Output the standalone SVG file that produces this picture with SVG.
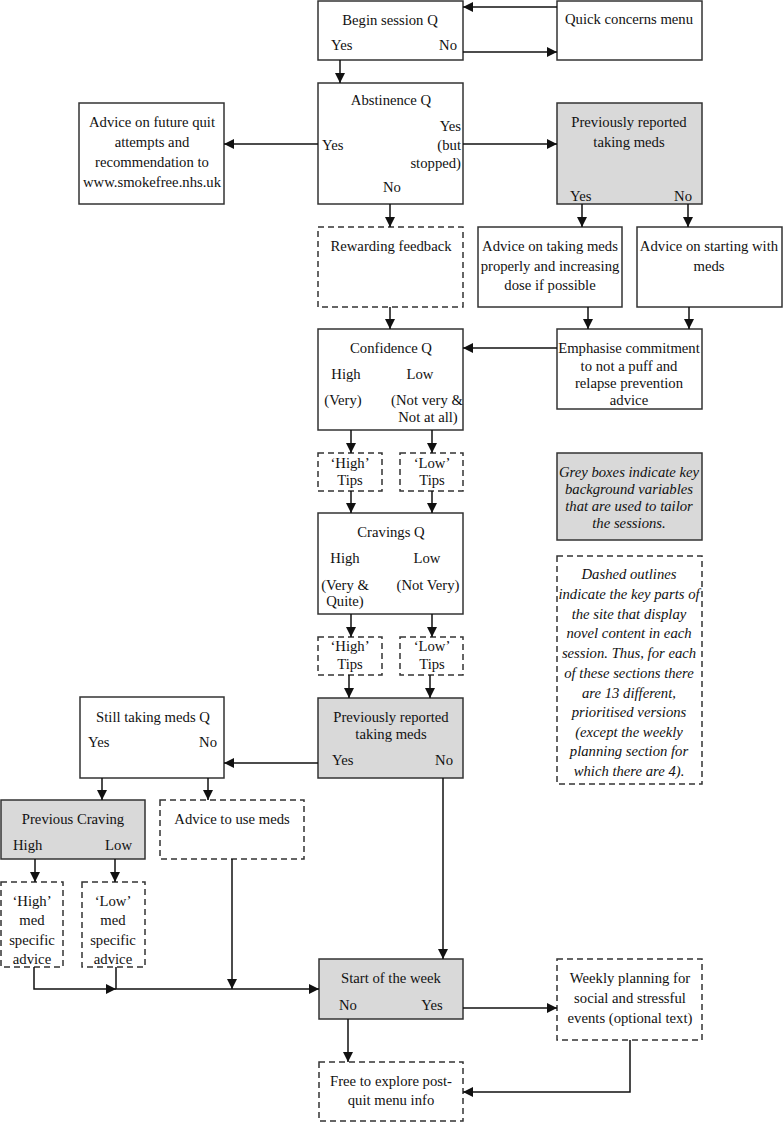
<svg xmlns="http://www.w3.org/2000/svg" width="784" height="1122" viewBox="0 0 784 1122">
<defs>
<marker id="arr" markerWidth="10" markerHeight="10" refX="10" refY="5" orient="auto" markerUnits="userSpaceOnUse">
<path d="M0,0 L10,5 L0,10 z" fill="#111"/>
</marker>
<style>
.box{fill:#fff;stroke:#333;stroke-width:1.5}
.grey{fill:#d9d9d9;stroke:#333;stroke-width:1.5}
.dash{fill:#fff;stroke:#333;stroke-width:1.5;stroke-dasharray:6,4}
text{font-family:"Liberation Serif","Times New Roman",serif;font-size:14.7px;fill:#111}
.c{text-anchor:middle}
.r{text-anchor:end}
.it{font-style:italic}
.ln{fill:none;stroke:#111;stroke-width:1.5}
.a{marker-end:url(#arr)}
</style>
</defs>
<rect width="784" height="1122" fill="#fff"/>

<g id="begin-session">
<rect class="box" x="318" y="1" width="145" height="59"/>
<text class="c" x="390" y="25">Begin session Q</text>
<text x="331" y="50">Yes</text>
<text class="r" x="457" y="50">No</text>
</g>
<g id="quick-concerns">
<rect class="box" x="557" y="1" width="145" height="59"/>
<text class="c" x="629" y="24">Quick concerns menu</text>
</g>
<g id="abstinence">
<rect class="box" x="318" y="83" width="145" height="121"/>
<text class="c" x="391" y="105">Abstinence Q</text>
<text x="322" y="150">Yes</text>
<text class="r" x="461" y="131">Yes</text>
<text class="r" x="461" y="150">(but</text>
<text class="r" x="461" y="168">stopped)</text>
<text class="c" x="392" y="192">No</text>
</g>
<g id="advice-future">
<rect class="box" x="79" y="103" width="145" height="101"/>
<text class="c" x="152" y="127">Advice on future quit</text>
<text class="c" x="152" y="147">attempts and</text>
<text class="c" x="152" y="167">recommendation to</text>
<text class="c" x="152" y="187">www.smokefree.nhs.uk</text>
</g>
<g id="prev-meds-1">
<rect class="grey" x="557" y="103" width="145" height="101"/>
<text class="c" x="629" y="127">Previously reported</text>
<text class="c" x="629" y="147">taking meds</text>
<text x="570" y="201">Yes</text>
<text class="r" x="692" y="201">No</text>
</g>
<g id="rewarding">
<rect class="dash" x="318" y="227" width="145" height="80"/>
<text class="c" x="391" y="251">Rewarding feedback</text>
</g>
<g id="advice-taking">
<rect class="box" x="478" y="227" width="144" height="80"/>
<text class="c" x="550" y="251">Advice on taking meds</text>
<text class="c" x="550" y="271">properly and increasing</text>
<text class="c" x="550" y="290">dose if possible</text>
</g>
<g id="advice-starting">
<rect class="box" x="637" y="227" width="145" height="80"/>
<text class="c" x="709" y="251">Advice on starting with</text>
<text class="c" x="709" y="271">meds</text>
</g>
<g id="confidence">
<rect class="box" x="318" y="329" width="145" height="101"/>
<text class="c" x="391" y="353">Confidence Q</text>
<text class="c" x="346" y="379">High</text>
<text class="c" x="420" y="379">Low</text>
<text class="c" x="343" y="405">(Very)</text>
<text class="c" x="427" y="405">(Not very &amp;</text>
<text class="c" x="428" y="422">Not at all)</text>
</g>
<g id="emphasise">
<rect class="box" x="557" y="329" width="145" height="80"/>
<text class="c" x="629" y="353">Emphasise commitment</text>
<text class="c" x="629" y="371">to not a puff and</text>
<text class="c" x="629" y="388">relapse prevention</text>
<text class="c" x="629" y="405">advice</text>
</g>
<g id="conf-high-tips">
<rect class="dash" x="318" y="453" width="64" height="38"/>
<text class="c" x="350" y="468">‘High’</text>
<text class="c" x="350" y="485">Tips</text>
</g>
<g id="conf-low-tips">
<rect class="dash" x="400" y="453" width="63" height="38"/>
<text class="c" x="432" y="468">‘Low’</text>
<text class="c" x="432" y="485">Tips</text>
</g>
<g id="cravings">
<rect class="box" x="318" y="513" width="145" height="101"/>
<text class="c" x="391" y="537">Cravings Q</text>
<text class="c" x="345" y="563">High</text>
<text class="c" x="427" y="563">Low</text>
<text class="c" x="345" y="590">(Very &amp;</text>
<text class="c" x="345" y="606">Quite)</text>
<text class="c" x="428" y="590">(Not Very)</text>
</g>
<g id="crav-high-tips">
<rect class="dash" x="318" y="637" width="64" height="38"/>
<text class="c" x="350" y="651">‘High’</text>
<text class="c" x="350" y="669">Tips</text>
</g>
<g id="crav-low-tips">
<rect class="dash" x="400" y="637" width="63" height="38"/>
<text class="c" x="432" y="651">‘Low’</text>
<text class="c" x="432" y="669">Tips</text>
</g>
<g id="legend-grey">
<rect class="grey" x="557" y="453" width="145" height="87"/>
<text class="c it" x="629" y="477">Grey boxes indicate key</text>
<text class="c it" x="629" y="494">background variables</text>
<text class="c it" x="629" y="511">that are used to tailor</text>
<text class="c it" x="629" y="528">the sessions.</text>
</g>
<g id="legend-dashed">
<rect class="dash" x="557" y="556" width="145" height="228"/>
<text class="c it" x="629" y="579">Dashed outlines</text>
<text class="c it" x="629" y="599">indicate the key parts of</text>
<text class="c it" x="629" y="619">the site that display</text>
<text class="c it" x="629" y="638">novel content in each</text>
<text class="c it" x="629" y="658">session. Thus, for each</text>
<text class="c it" x="629" y="678">of these sections there</text>
<text class="c it" x="629" y="698">are 13 different,</text>
<text class="c it" x="629" y="717">prioritised versions</text>
<text class="c it" x="629" y="737">(except the weekly</text>
<text class="c it" x="629" y="756">planning section for</text>
<text class="c it" x="629" y="776">which there are 4).</text>
</g>
<g id="still-taking">
<rect class="box" x="80" y="697" width="144" height="81"/>
<text class="c" x="153" y="722">Still taking meds Q</text>
<text x="88" y="747">Yes</text>
<text class="r" x="217" y="747">No</text>
</g>
<g id="prev-meds-2">
<rect class="grey" x="318" y="698" width="145" height="80"/>
<text class="c" x="391" y="722">Previously reported</text>
<text class="c" x="391" y="739">taking meds</text>
<text x="332" y="765">Yes</text>
<text class="r" x="453" y="765">No</text>
</g>
<g id="prev-craving">
<rect class="grey" x="1" y="800" width="144" height="59"/>
<text class="c" x="73" y="824">Previous Craving</text>
<text x="13" y="850">High</text>
<text class="r" x="132" y="850">Low</text>
</g>
<g id="advice-use-meds">
<rect class="dash" x="160" y="800" width="144" height="59"/>
<text class="c" x="232" y="824">Advice to use meds</text>
</g>
<g id="high-med">
<rect class="dash" x="1" y="882" width="62" height="85"/>
<text class="c" x="32" y="906">‘High’</text>
<text class="c" x="32" y="925">med</text>
<text class="c" x="32" y="945">specific</text>
<text class="c" x="32" y="964">advice</text>
</g>
<g id="low-med">
<rect class="dash" x="82" y="882" width="63" height="85"/>
<text class="c" x="113" y="906">‘Low’</text>
<text class="c" x="113" y="925">med</text>
<text class="c" x="113" y="945">specific</text>
<text class="c" x="113" y="964">advice</text>
</g>
<g id="start-week">
<rect class="grey" x="319" y="959" width="144" height="60"/>
<text class="c" x="391" y="983">Start of the week</text>
<text class="c" x="348" y="1010">No</text>
<text class="c" x="432" y="1010">Yes</text>
</g>
<g id="weekly-planning">
<rect class="dash" x="557" y="959" width="145" height="81"/>
<text class="c" x="630" y="983">Weekly planning for</text>
<text class="c" x="630" y="1003">social and stressful</text>
<text class="c" x="630" y="1023">events (optional text)</text>
</g>
<g id="free-explore">
<rect class="dash" x="319" y="1062" width="144" height="59"/>
<text class="c" x="391" y="1086">Free to explore post-</text>
<text class="c" x="391" y="1105">quit menu info</text>
</g>

<g id="connectors">
<line class="ln a" x1="557" y1="7" x2="463" y2="7"/>
<line class="ln a" x1="463" y1="52" x2="557" y2="52"/>
<line class="ln a" x1="340" y1="60" x2="340" y2="83"/>
<line class="ln a" x1="318" y1="144" x2="224" y2="144"/>
<line class="ln a" x1="463" y1="144" x2="557" y2="144"/>
<line class="ln a" x1="390" y1="204" x2="390" y2="227"/>
<line class="ln a" x1="582" y1="204" x2="582" y2="227"/>
<line class="ln a" x1="688" y1="204" x2="688" y2="227"/>
<line class="ln a" x1="390" y1="307" x2="390" y2="329"/>
<line class="ln a" x1="588" y1="307" x2="588" y2="329"/>
<line class="ln a" x1="689" y1="307" x2="689" y2="329"/>
<line class="ln a" x1="557" y1="348" x2="463" y2="348"/>
<line class="ln a" x1="351" y1="430" x2="351" y2="453"/>
<line class="ln a" x1="432" y1="430" x2="432" y2="453"/>
<line class="ln a" x1="351" y1="491" x2="351" y2="513"/>
<line class="ln a" x1="432" y1="491" x2="432" y2="513"/>
<line class="ln a" x1="351" y1="614" x2="351" y2="637"/>
<line class="ln a" x1="432" y1="614" x2="432" y2="637"/>
<line class="ln a" x1="349" y1="675" x2="349" y2="698"/>
<line class="ln a" x1="430" y1="675" x2="430" y2="698"/>
<line class="ln a" x1="318" y1="763" x2="224" y2="763"/>
<line class="ln a" x1="443" y1="778" x2="443" y2="959"/>
<line class="ln a" x1="102" y1="778" x2="102" y2="800"/>
<line class="ln a" x1="208" y1="778" x2="208" y2="800"/>
<line class="ln a" x1="35" y1="859" x2="35" y2="882"/>
<line class="ln a" x1="115" y1="859" x2="115" y2="882"/>
<polyline class="ln a" points="34,967 34,989 116,989"/>
<polyline class="ln a" points="116,967 116,989 319,989"/>
<line class="ln a" x1="232" y1="859" x2="232" y2="989"/>
<line class="ln a" x1="348" y1="1019" x2="348" y2="1062"/>
<line class="ln a" x1="463" y1="1008" x2="557" y2="1008"/>
<polyline class="ln a" points="630,1040 630,1092 463,1092"/>
</g>
</svg>
